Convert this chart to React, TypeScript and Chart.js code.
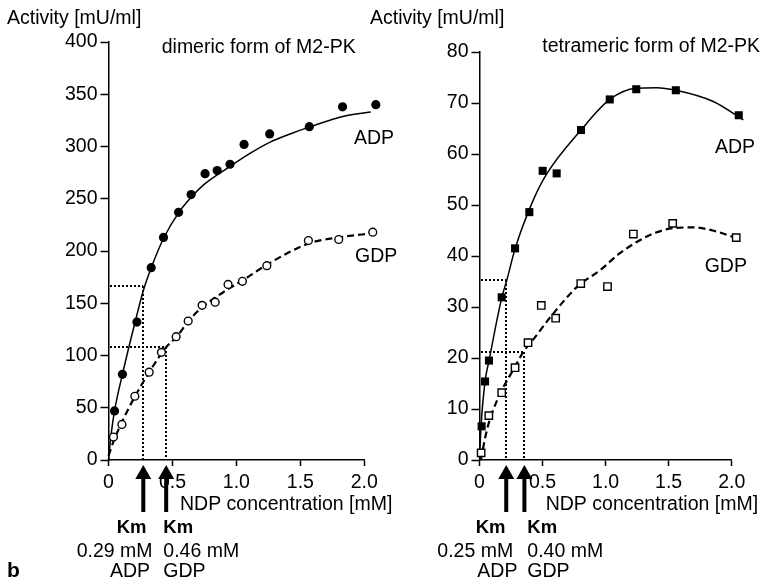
import React, { useEffect, useRef } from 'react';
import { Chart, registerables } from 'chart.js';

Chart.register(...registerables);

const W = 768;
const H = 578;
const FONT = "'Liberation Sans', Arial, Helvetica, sans-serif";

// ---------- Left panel: dimeric form of M2-PK ----------
const dimAdpX = [0.047, 0.109, 0.222, 0.334, 0.43, 0.548, 0.646, 0.755, 0.85, 0.95, 1.06, 1.26, 1.57, 1.83, 2.09];
const dimAdpY = [47, 82, 132, 184, 213, 237, 254, 274, 277, 283, 302, 312, 319, 338, 340];
const dimGdpX = [0.039, 0.105, 0.206, 0.318, 0.414, 0.529, 0.623, 0.732, 0.834, 0.935, 1.047, 1.238, 1.563, 1.8, 2.066];
const dimGdpY = [22, 34, 61, 84, 103, 118, 133, 148, 151, 168, 171, 186, 210, 211, 218];
const dimAdpFitX = [0, 0.02, 0.047, 0.109, 0.21, 0.272, 0.334, 0.43, 0.55, 0.65, 0.75, 0.95, 1.1, 1.26, 1.42, 1.58, 1.84, 2.05];
const dimAdpFitY = [0, 24, 47, 82, 133, 162, 184, 212, 237, 252, 264, 281, 293, 304, 312, 319, 329, 333];
const dimGdpFitX = [0, 0.04, 0.1, 0.203, 0.318, 0.451, 0.534, 0.625, 0.73, 0.83, 0.94, 1.05, 1.24, 1.56, 1.8, 2.07];
const dimGdpFitY = [4, 18, 35, 60, 84, 108, 118, 133, 146, 155, 164, 172, 187, 207, 213, 217];
const dimKmX = [0.272, 0.451];
const dimHalfY = [166.5, 108];
const dimYTicks = [0, 50, 100, 150, 200, 250, 300, 350, 400];

// ---------- Right panel: tetrameric form of M2-PK ----------
const tetAdpX = [0.017, 0.044, 0.075, 0.176, 0.282, 0.395, 0.501, 0.612, 0.805, 1.033, 1.243, 1.557, 2.056];
const tetAdpY = [6.6, 15.4, 19.5, 31.9, 41.5, 48.6, 56.7, 56.2, 64.7, 70.7, 72.7, 72.5, 67.6];
const tetGdpX = [0.013, 0.074, 0.176, 0.282, 0.385, 0.49, 0.604, 0.803, 1.015, 1.22, 1.532, 2.036];
const tetGdpY = [1.4, 8.7, 13.2, 18.1, 23, 30.3, 27.8, 34.6, 34, 44.3, 46.4, 43.6];
const tetAdpFitX = [0, 0.012, 0.044, 0.075, 0.176, 0.216, 0.282, 0.427, 0.533, 0.805, 1.033, 1.241, 1.405, 1.558, 1.854, 2.092];
const tetAdpFitY = [0.3, 6.5, 15.4, 19.4, 31.8, 35.2, 41.4, 51, 56.1, 64.7, 70.7, 72.9, 73, 72.5, 70.3, 66.7];
const tetGdpFitX = [0.01, 0.06, 0.141, 0.282, 0.353, 0.419, 0.565, 0.776, 0.961, 1.1, 1.25, 1.4, 1.55, 1.7, 1.85, 2.04];
const tetGdpFitY = [0, 6, 11.8, 18.3, 21.4, 23.4, 28.1, 34, 37.3, 40.3, 42.8, 44.6, 45.5, 45.6, 45, 43.5];
const tetKmX = [0.212, 0.356];
const tetHalfY = [35.2, 21.2];
const tetYTicks = [0, 10, 20, 30, 40, 50, 60, 70, 80];

const xTickValues = [0, 0.5, 1, 1.5, 2];
const xTickLabels = ['0', '0.5', '1.0', '1.5', '2.0'];

type Txt = { t: string; x: number; y: number; bold?: boolean; size?: number };

const zip = (xs: number[], ys: number[]) => xs.map((x, i) => ({ x, y: ys[i] }));

function makeConfig(p: {
  area: { left: number; right: number; top: number; bottom: number };
  yMax: number;
  yTicks: number[];
  adpX: number[]; adpY: number[]; gdpX: number[]; gdpY: number[];
  adpFitX: number[]; adpFitY: number[]; gdpFitX: number[]; gdpFitY: number[];
  kmX: number[]; halfY: number[];
  square: boolean;
  texts: Txt[];
}) {
  const xAxisH = 40;
  let savedArea: any = null;
  const annot = {
    id: 'annot',
    beforeDatasetsDraw(chart: any) {
      const { ctx, scales } = chart;
      const xs = scales.x, ys = scales.y;
      ctx.save();
      ctx.strokeStyle = '#000';
      ctx.lineWidth = 2;
      ctx.setLineDash([2, 2]);
      p.kmX.forEach((km, i) => {
        const px = Math.round(xs.getPixelForValue(km));
        const py = Math.round(ys.getPixelForValue(p.halfY[i]));
        ctx.beginPath();
        ctx.moveTo(Math.round(xs.getPixelForValue(0)) + 1, py);
        ctx.lineTo(px, py);
        ctx.stroke();
        ctx.beginPath();
        ctx.moveTo(px, py);
        ctx.lineTo(px, Math.round(ys.getPixelForValue(0)));
        ctx.stroke();
      });
      ctx.restore();
      // the measured points just beyond 2.0 mM lie outside the axis range;
      // widen the area used for the point visibility test while datasets draw
      savedArea = chart.chartArea;
      chart.chartArea = { ...savedArea, right: savedArea.right + 30, width: savedArea.width + 30 };
    },
    afterDatasetsDraw(chart: any) {
      if (savedArea) chart.chartArea = savedArea;
      savedArea = null;
    },
    afterDraw(chart: any) {
      const { ctx, scales } = chart;
      const xs = scales.x;
      ctx.save();
      ctx.fillStyle = '#000';
      // Km arrows below the axis
      p.kmX.forEach((km) => {
        const px = xs.getPixelForValue(km);
        const tip = 465;
        ctx.beginPath();
        ctx.moveTo(px, tip);
        ctx.lineTo(px - 8, tip + 14);
        ctx.lineTo(px + 8, tip + 14);
        ctx.closePath();
        ctx.fill();
        ctx.fillRect(px - 2, tip + 12, 4, 512 - tip - 12);
      });
      ctx.textBaseline = 'alphabetic';
      ctx.textAlign = 'left';
      p.texts.forEach((tx) => {
        ctx.font = `${tx.bold ? 'bold ' : ''}${tx.size || 19.5}px ${FONT}`;
        ctx.fillStyle = '#000';
        ctx.fillText(tx.t, tx.x, tx.y);
      });
      ctx.restore();
    },
  };

  const ptStyle = p.square ? 'rect' : 'circle';
  return {
    type: 'scatter' as const,
    data: {
      datasets: [
        {
          data: zip(p.adpX, p.adpY),
          showLine: false,
          pointStyle: ptStyle,
          pointRadius: p.square ? 5.7 : 4.6,
          pointBackgroundColor: '#000',
          pointBorderColor: '#000',
          pointBorderWidth: 0,
          clip: false as any,
          order: 0,
        },
        {
          data: zip(p.gdpX, p.gdpY),
          showLine: false,
          pointStyle: ptStyle,
          pointRadius: p.square ? 5.2 : 3.9,
          pointBackgroundColor: '#fff',
          pointBorderColor: '#000',
          pointBorderWidth: 1.4,
          clip: false as any,
          order: 0,
        },
        {
          data: zip(p.adpFitX, p.adpFitY),
          showLine: true,
          pointRadius: 0,
          borderColor: '#000',
          borderWidth: 1.5,
          cubicInterpolationMode: 'monotone' as const,
          clip: false as any,
          order: 1,
        },
        {
          data: zip(p.gdpFitX, p.gdpFitY),
          showLine: true,
          pointRadius: 0,
          borderColor: '#000',
          borderWidth: 2.2,
          borderDash: [7, 4],
          cubicInterpolationMode: 'monotone' as const,
          clip: false as any,
          order: 1,
        },
      ],
    },
    options: {
      responsive: false,
      animation: false as const,
      events: [],
      layout: {
        padding: {
          left: 0,
          top: p.area.top,
          right: W - p.area.right,
          bottom: H - p.area.bottom - xAxisH,
        },
      },
      plugins: {
        legend: { display: false },
        tooltip: { enabled: false },
        title: { display: false },
      },
      scales: {
        x: {
          type: 'linear' as const,
          afterDataLimits: (s: any) => { s.min = 0; s.max = 2; },
          afterFit: (s: any) => { s.height = xAxisH; },
          afterBuildTicks: (s: any) => { s.ticks = xTickValues.map((v) => ({ value: v })); },
          ticks: {
            callback: (_v: any, i: number) => xTickLabels[i],
            color: '#000',
            font: { family: FONT, size: 19.5 },
            padding: 5,
            maxRotation: 0,
            autoSkip: false,
          },
          grid: { drawOnChartArea: false, drawTicks: true, tickLength: 6, tickColor: '#000', tickWidth: 1.5 },
          border: { display: true, color: '#000', width: 1.5 },
        },
        y: {
          type: 'linear' as const,
          afterDataLimits: (s: any) => { s.min = 0; s.max = p.yMax; },
          afterFit: (s: any) => { s.width = p.area.left; },
          afterBuildTicks: (s: any) => { s.ticks = p.yTicks.map((v) => ({ value: v })); },
          ticks: {
            callback: (v: any) => String(v),
            color: '#000',
            font: { family: FONT, size: 19.5 },
            padding: 3,
            autoSkip: false,
          },
          grid: { drawOnChartArea: false, drawTicks: true, tickLength: 8, tickColor: '#000', tickWidth: 1.5 },
          border: { display: true, color: '#000', width: 1.5 },
        },
      },
    },
    plugins: [annot],
  };
}

const leftTexts: Txt[] = [
  { t: 'Activity [mU/ml]', x: 7, y: 23.5 },
  { t: 'dimeric form of M2-PK', x: 161.7, y: 52.7 },
  { t: 'ADP', x: 354, y: 143.5 },
  { t: 'GDP', x: 355, y: 261.5 },
  { t: 'NDP concentration [mM]', x: 180, y: 509.5 },
  { t: 'Km', x: 116.7, y: 533, bold: true, size: 18.5 },
  { t: 'Km', x: 163.3, y: 533, bold: true, size: 18.5 },
  { t: '0.29 mM', x: 76.7, y: 556.5 },
  { t: '0.46 mM', x: 163.3, y: 556.5 },
  { t: 'ADP', x: 110, y: 576.5 },
  { t: 'GDP', x: 163.3, y: 576.5 },
  { t: 'b', x: 7, y: 576.5, bold: true, size: 21 },
];

const rightTexts: Txt[] = [
  { t: 'Activity [mU/ml]', x: 370, y: 23.5 },
  { t: 'tetrameric form of M2-PK', x: 542.3, y: 52.3 },
  { t: 'ADP', x: 715, y: 153.3 },
  { t: 'GDP', x: 704.7, y: 271.5 },
  { t: 'NDP concentration [mM]', x: 545.7, y: 509.5 },
  { t: 'Km', x: 475.7, y: 533, bold: true, size: 18.5 },
  { t: 'Km', x: 527.3, y: 533, bold: true, size: 18.5 },
  { t: '0.25 mM', x: 437.3, y: 556.5 },
  { t: '0.40 mM', x: 527.3, y: 556.5 },
  { t: 'ADP', x: 477.3, y: 576.5 },
  { t: 'GDP', x: 527.3, y: 576.5 },
];

export default function App() {
  const leftRef = useRef<HTMLCanvasElement>(null);
  const rightRef = useRef<HTMLCanvasElement>(null);

  useEffect(() => {
    const charts: Chart[] = [];
    if (leftRef.current) {
      charts.push(
        new Chart(
          leftRef.current,
          makeConfig({
            area: { left: 108.5, right: 364.3, top: 42, bottom: 460 },
            yMax: 400,
            yTicks: dimYTicks,
            adpX: dimAdpX, adpY: dimAdpY, gdpX: dimGdpX, gdpY: dimGdpY,
            adpFitX: dimAdpFitX, adpFitY: dimAdpFitY, gdpFitX: dimGdpFitX, gdpFitY: dimGdpFitY,
            kmX: dimKmX, halfY: dimHalfY,
            square: false,
            texts: leftTexts,
          }) as any
        )
      );
    }
    if (rightRef.current) {
      charts.push(
        new Chart(
          rightRef.current,
          makeConfig({
            area: { left: 479.5, right: 731.7, top: 52, bottom: 460 },
            yMax: 80,
            yTicks: tetYTicks,
            adpX: tetAdpX, adpY: tetAdpY, gdpX: tetGdpX, gdpY: tetGdpY,
            adpFitX: tetAdpFitX, adpFitY: tetAdpFitY, gdpFitX: tetGdpFitX, gdpFitY: tetGdpFitY,
            kmX: tetKmX, halfY: tetHalfY,
            square: true,
            texts: rightTexts,
          }) as any
        )
      );
    }
    return () => charts.forEach((c) => c.destroy());
  }, []);

  const cs: React.CSSProperties = { position: 'absolute', left: 0, top: 0, width: W, height: H };
  return (
    <div style={{ position: 'fixed', left: 0, top: 0, width: W, height: H, background: '#fff' }}>
      <canvas ref={leftRef} width={W} height={H} style={cs} />
      <canvas ref={rightRef} width={W} height={H} style={cs} />
    </div>
  );
}
